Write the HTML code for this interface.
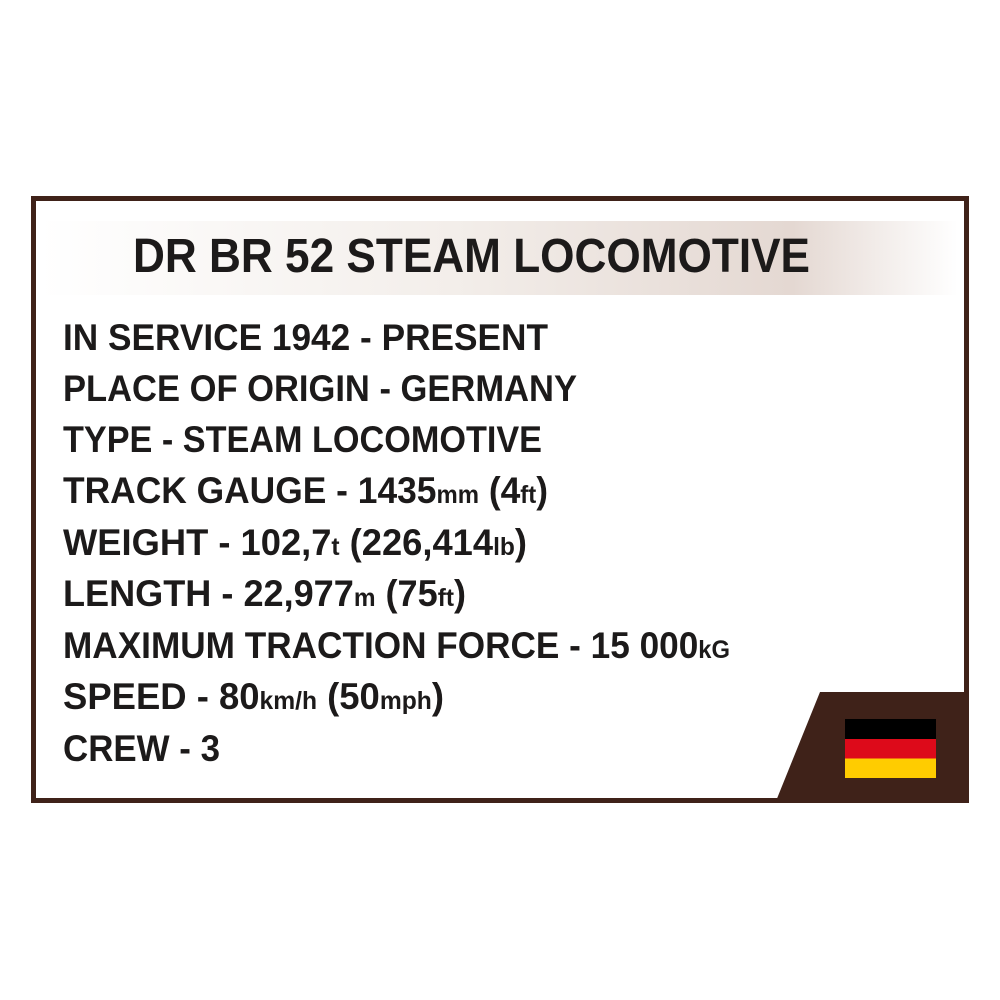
<!DOCTYPE html>
<html><head><meta charset="utf-8"><style>
html,body{margin:0;padding:0;background:#fff;}
svg{display:block}
text{font-family:"Liberation Sans",sans-serif;font-weight:bold;fill:#1c1a1a;}
</style></head><body>
<svg width="1000" height="1000" viewBox="0 0 1000 1000" xmlns="http://www.w3.org/2000/svg">
<defs>
<linearGradient id="g" x1="0" x2="1" y1="0" y2="0">
<stop offset="0" stop-color="#ffffff"/>
<stop offset="0.45" stop-color="#f3eeea"/>
<stop offset="0.82" stop-color="#e4d8d2"/>
<stop offset="1" stop-color="#ffffff"/>
</linearGradient>
</defs>
<rect x="0" y="0" width="1000" height="1000" fill="#fff"/>
<rect x="33.5" y="198.5" width="933" height="602" fill="#fff" stroke="#3f2219" stroke-width="5"/>
<rect x="40" y="221" width="918" height="74" fill="url(#g)"/>
<text x="133" y="272" font-size="48" textLength="677" lengthAdjust="spacingAndGlyphs">DR BR 52 STEAM LOCOMOTIVE</text>
<polygon points="820,692 966,692 966,801 776,801" fill="#3f2219"/>
<rect x="845" y="719" width="91" height="20" fill="#000"/>
<rect x="845" y="739" width="91" height="19.5" fill="#dd0a1a"/>
<rect x="845" y="758.5" width="91" height="19.5" fill="#ffcc00"/>
<g font-size="37">
<text x="63" y="350" textLength="485" lengthAdjust="spacingAndGlyphs">IN SERVICE 1942 - PRESENT</text>
<text x="63" y="401" textLength="514" lengthAdjust="spacingAndGlyphs">PLACE OF ORIGIN - GERMANY</text>
<text x="63" y="452" textLength="479" lengthAdjust="spacingAndGlyphs">TYPE - STEAM LOCOMOTIVE</text>
<text x="63" y="503" textLength="485" lengthAdjust="spacingAndGlyphs">TRACK GAUGE - 1435<tspan font-size="25">mm</tspan> (4<tspan font-size="25">ft</tspan>)</text>
<text x="63" y="555" textLength="464" lengthAdjust="spacingAndGlyphs">WEIGHT - 102,7<tspan font-size="25">t</tspan> (226,414<tspan font-size="25">lb</tspan>)</text>
<text x="63" y="606" textLength="403" lengthAdjust="spacingAndGlyphs">LENGTH - 22,977<tspan font-size="25">m</tspan> (75<tspan font-size="25">ft</tspan>)</text>
<text x="63" y="658" textLength="667" lengthAdjust="spacingAndGlyphs">MAXIMUM TRACTION FORCE - 15 000<tspan font-size="25">kG</tspan></text>
<text x="63" y="709" textLength="381" lengthAdjust="spacingAndGlyphs">SPEED - 80<tspan font-size="25">km/h</tspan> (50<tspan font-size="25">mph</tspan>)</text>
<text x="63" y="761" textLength="157" lengthAdjust="spacingAndGlyphs">CREW - 3</text>
</g>
</svg>
</body></html>
